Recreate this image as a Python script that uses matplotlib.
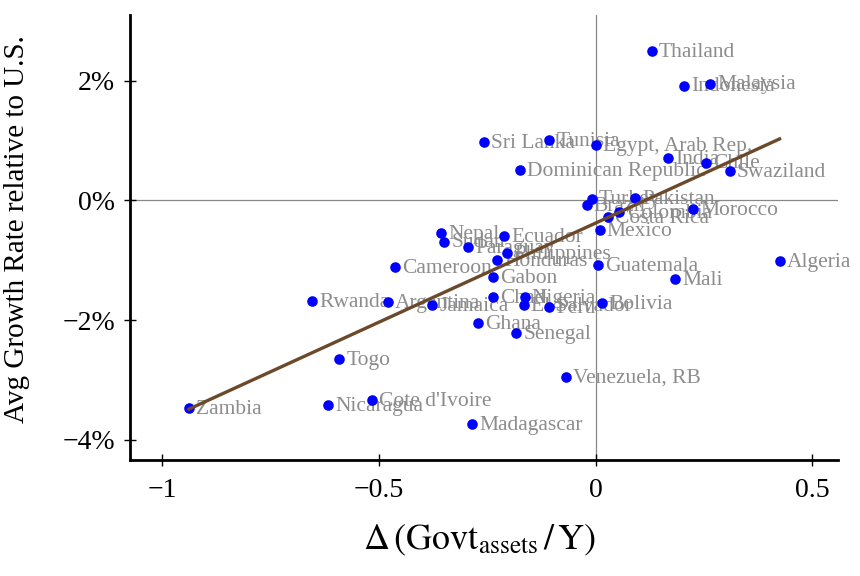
import numpy as np
import matplotlib
matplotlib.use("Agg")
import matplotlib.pyplot as plt
from matplotlib.ticker import FuncFormatter

plt.rcParams['font.family'] = ['Liberation Serif', 'DejaVu Serif']
plt.rcParams['mathtext.fontset'] = 'stix'

countries = ["Thailand", "Malaysia", "Indonesia", "Sri Lanka", "Tunisia", "Egypt, Arab Rep.",
             "India", "Chile", "Swaziland", "Dominican Republic", "Turkey", "Pakistan", "Brazil",
             "Costa Rica", "Colombia", "Morocco", "Mexico", "Nepal", "Sudan", "Paraguay",
             "Ecuador", "Philippines", "Honduras", "Cameroon", "Gabon", "Guatemala", "Chad",
             "Nigeria", "El Salvador", "Peru", "Bolivia", "Rwanda", "Argentina", "Jamaica",
             "Ghana", "Senegal", "Togo", "Zambia", "Nicaragua", "Cote d'Ivoire", "Madagascar",
             "Venezuela, RB", "Mali", "Algeria"]
d_govt_assets = [0.129, 0.263, 0.203, -0.258, -0.108, 0.000,
                 0.166, 0.255, 0.309, -0.175, -0.009, 0.090, -0.021,
                 0.028, 0.055, 0.224, 0.009, -0.357, -0.350, -0.295,
                 -0.212, -0.205, -0.228, -0.463, -0.237, 0.005, -0.237,
                 -0.164, -0.166, -0.108, 0.014, -0.654, -0.479, -0.378,
                 -0.272, -0.184, -0.592, -0.938, -0.618, -0.516, -0.286,
                 -0.069, 0.184, 0.424]
growth = [2.49, 1.95, 1.92, 0.98, 1.01, 0.93,
          0.71, 0.63, 0.49, 0.51, 0.03, 0.04, -0.08,
          -0.28, -0.19, -0.15, -0.49, -0.54, -0.69, -0.78,
          -0.59, -0.88, -1.00, -1.11, -1.28, -1.08, -1.61,
          -1.61, -1.75, -1.78, -1.72, -1.68, -1.70, -1.75,
          -2.05, -2.22, -2.65, -3.47, -3.42, -3.34, -3.74,
          -2.95, -1.31, -1.01]

x = np.array(d_govt_assets)
y = np.array(growth)

fig = plt.figure(figsize=(8.6, 5.76), dpi=100)
ax = fig.add_axes([0.151, 0.201, 0.823, 0.773])

ax.axhline(0, color='#888888', lw=0.9, zorder=1)
ax.axvline(0, color='#888888', lw=0.9, zorder=1)

ax.scatter(x, y, s=58, color='#0000ff', zorder=3, linewidths=0)
for name, xi, yi in zip(countries, x, y):
    ax.text(xi + 0.017, yi - 0.02, name, color='#8c8c8c', fontsize=15.5,
            va='center', ha='left', zorder=2)

# linear fit over the countries
slope, intercept = np.polyfit(x, y, 1)
xs = np.array([x.min(), x.max()])
ax.plot(xs, slope * xs + intercept, color='#6b4a2b', lw=2.4, zorder=4)

ax.set_xlim(-1.074, 0.558)
ax.set_ylim(-4.34, 3.10)
ax.set_xticks([-1, -0.5, 0, 0.5])
ax.set_yticks([-4, -2, 0, 2])
ax.xaxis.set_major_formatter(FuncFormatter(lambda v, p: f"{v:g}".replace('-', '\u2212')))
ax.yaxis.set_major_formatter(FuncFormatter(lambda v, p: f"{v:.0f}%".replace('-', '\u2212')))
ax.tick_params(direction='inout', length=9, width=1, labelsize=20)
ax.tick_params(axis='x', pad=8)
ax.tick_params(axis='y', pad=6)

for side in ['top', 'right']:
    ax.spines[side].set_visible(False)
for side in ['left', 'bottom']:
    ax.spines[side].set_linewidth(2)

ax.set_ylabel('Avg Growth Rate relative to U.S.', fontsize=21)
ax.yaxis.set_label_coords(-0.141, 0.52)
ax.set_xlabel(r'$\Delta\,\left(\mathrm{Govt}_{\mathrm{assets}}\,/\,\mathrm{Y}\right)$', fontsize=26)
ax.xaxis.set_label_coords(0.494, -0.14)

fig.savefig('out.png', dpi=100)
